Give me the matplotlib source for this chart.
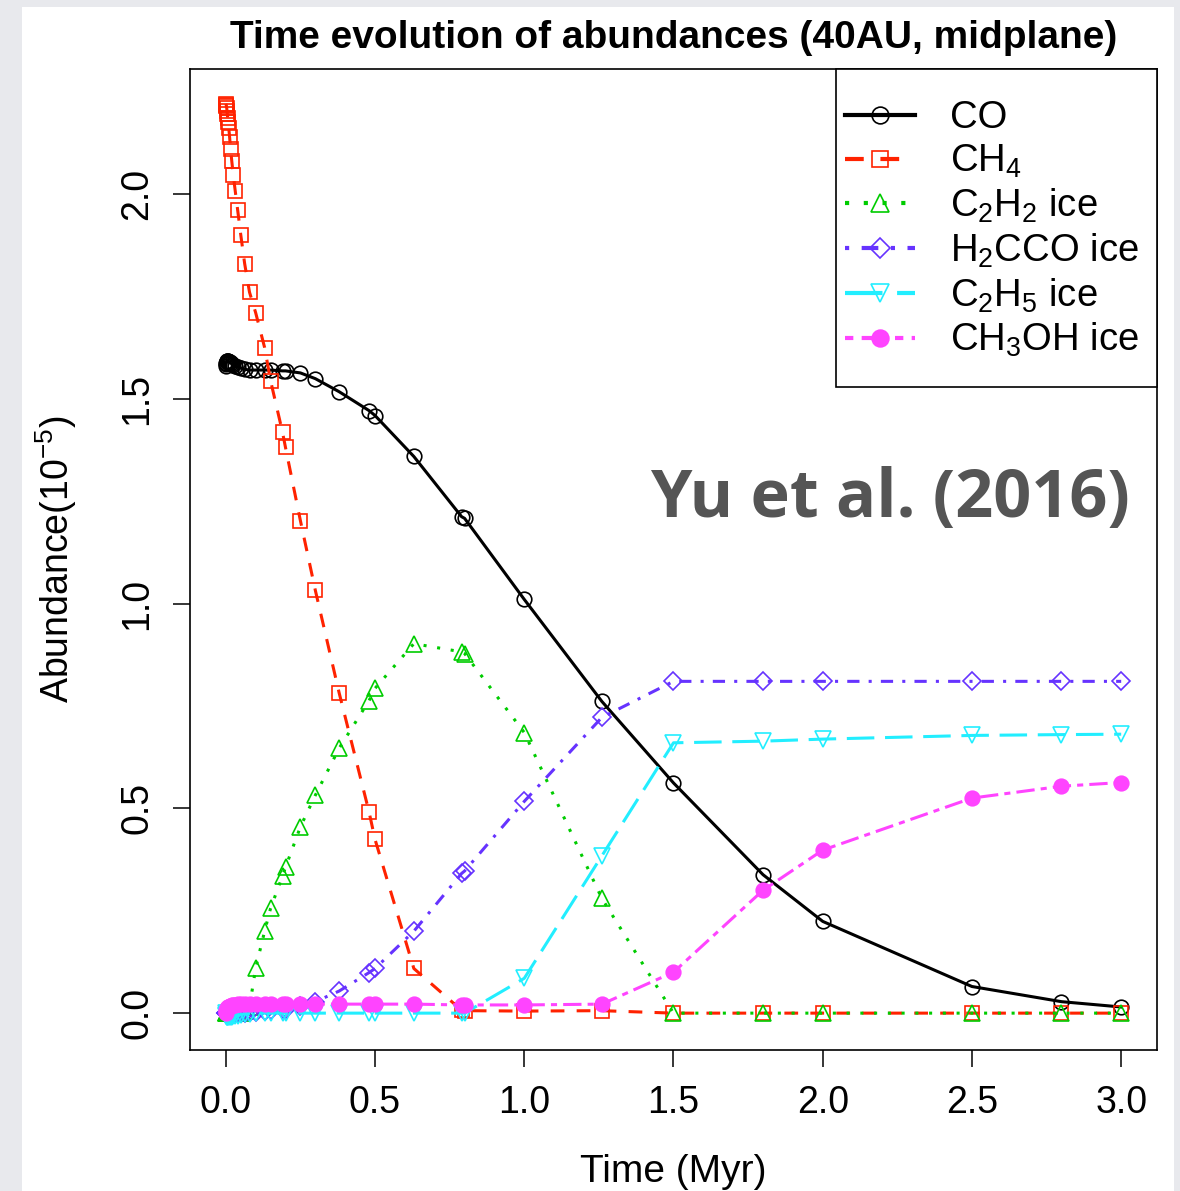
import matplotlib
matplotlib.use("Agg")
import matplotlib.pyplot as plt
from matplotlib.patches import Rectangle

plt.rcParams['font.family'] = ['Liberation Sans', 'DejaVu Sans']
plt.rcParams['mathtext.default'] = 'regular'

# time grid (Myr)
time = [0, 0.001, 0.002, 0.003, 0.004, 0.005, 0.0063, 0.0079, 0.01, 0.0126,
        0.0158, 0.02, 0.0251, 0.0316, 0.0398, 0.0501, 0.0631, 0.0794,
        0.1, 0.13, 0.15, 0.19, 0.2, 0.25, 0.3, 0.38, 0.48, 0.5, 0.63, 0.79,
        0.8, 1.0, 1.26, 1.5, 1.8, 2.0, 2.5, 2.8, 3.0]

# abundances in units of 1e-5
co = [1.58, 1.585, 1.588, 1.59, 1.591, 1.592, 1.592, 1.591, 1.59, 1.589,
      1.587, 1.585, 1.583, 1.58, 1.578, 1.575, 1.572, 1.57,
      1.57, 1.57, 1.57, 1.568, 1.568, 1.563, 1.549, 1.517, 1.471, 1.459, 1.359, 1.212,
      1.208, 1.01, 0.761, 0.562, 0.338, 0.224, 0.065, 0.028, 0.015]
ch4 = [2.22, 2.218, 2.215, 2.21, 2.203, 2.195, 2.185, 2.175, 2.16, 2.14,
       2.11, 2.08, 2.045, 2.007, 1.96, 1.90, 1.83, 1.76,
       1.71, 1.625, 1.544, 1.418, 1.381, 1.202, 1.032, 0.781, 0.491, 0.424, 0.109, 0.007,
       0.006, 0.005, 0.006, 0.0, 0.0, 0.0, 0.0, 0.0, 0.0]
c2h2 = [0, 0, 0, 0, 0, 0, 0, 0, 0, 0,
        0, 0, 0, 0, 0, 0.001, 0.004, 0.015,
        0.11, 0.2, 0.256, 0.335, 0.356, 0.455, 0.532, 0.647, 0.763, 0.793, 0.902, 0.882,
        0.878, 0.685, 0.28, 0.0, 0.0, 0.0, 0.0, 0.0, 0.0]
h2cco = [0, 0, 0, 0, 0, 0, 0, 0, 0, 0,
         0, 0, 0, 0, 0, 0.001, 0.001, 0.002,
         0.003, 0.005, 0.007, 0.01, 0.011, 0.018, 0.028, 0.054, 0.099, 0.109, 0.2, 0.341,
         0.347, 0.517, 0.722, 0.81, 0.81, 0.81, 0.81, 0.81, 0.81]
c2h5 = [0.0, -0.005, -0.008, -0.01, -0.01, -0.01, -0.01, -0.01, -0.01, -0.01,
        -0.009, -0.009, -0.008, -0.008, -0.006, -0.004, -0.002, -0.001,
        0, 0, 0, 0, 0, 0, 0, 0, 0, 0, 0, 0,
        0, 0.085, 0.384, 0.66, 0.664, 0.669, 0.678, 0.68, 0.681]
ch3oh = [0.0, 0.004, 0.007, 0.009, 0.011, 0.012, 0.014, 0.015, 0.016, 0.017,
         0.018, 0.019, 0.02, 0.021, 0.022, 0.022, 0.022, 0.022,
         0.022, 0.022, 0.022, 0.022, 0.022, 0.022, 0.022, 0.022, 0.022, 0.022, 0.022, 0.02,
         0.02, 0.02, 0.022, 0.1, 0.3, 0.398, 0.525, 0.554, 0.563]

labels = ['CO', 'CH$_4$', 'C$_2$H$_2$ ice', 'H$_2$CCO ice', 'C$_2$H$_5$ ice', 'CH$_3$OH ice']

fig = plt.figure(figsize=(11.8, 11.91), dpi=100)
fig.patch.set_facecolor('#e8e9ed')
# white slide panel behind the plot
fig.patches.append(Rectangle((22 / 1180, 0), (1174 - 22) / 1180, (1191 - 7) / 1191,
                             transform=fig.transFigure, facecolor='white',
                             edgecolor='none', zorder=-10))

ax = fig.add_axes([190 / 1180, (1191 - 1050) / 1191, (1157 - 190) / 1180, (1050 - 69) / 1191])
ax.set_zorder(1)
ax.patch.set_alpha(0)

lw = 2.2
ms_ew = 1.2
ax.plot(time, co, color='black', lw=lw, ls='-', marker='o', ms=10.5,
        mfc='none', mew=ms_ew, label=labels[0])
ax.plot(time, ch4, color='#ff2200', lw=lw, ls=(0, (4.5, 4)), marker='s', ms=10.5,
        mfc='none', mew=ms_ew, label=labels[1])
ax.plot(time, c2h2, color='#00cc00', lw=lw, ls=(0, (1, 3.5)), marker='^', ms=11,
        mfc='none', mew=ms_ew, label=labels[2])
ax.plot(time, h2cco, color='#6633ff', lw=lw, ls=(0, (1, 3, 4, 3)), marker='D', ms=9,
        mfc='none', mew=ms_ew, label=labels[3])
ax.plot(time, c2h5, color='#22eeff', lw=lw, ls=(0, (9, 3.5)), marker='v', ms=11,
        mfc='none', mew=ms_ew, label=labels[4])
ax.plot(time, ch3oh, color='#ff44ff', lw=lw, ls=(0, (2, 2, 6, 2)), marker='o', ms=10.5,
        mew=ms_ew, label=labels[5])

ax.set_xlim(-0.12, 3.12)
ax.set_ylim(-0.09, 2.305)
ax.set_xticks([0, 0.5, 1.0, 1.5, 2.0, 2.5, 3.0])
ax.set_xticklabels(['0.0', '0.5', '1.0', '1.5', '2.0', '2.5', '3.0'])
ax.set_yticks([0, 0.5, 1.0, 1.5, 2.0])
ax.set_yticklabels(['0.0', '0.5', '1.0', '1.5', '2.0'], rotation=90, va='center')

for s in ax.spines.values():
    s.set_linewidth(1.2)
ax.tick_params(direction='out', length=12, width=1.1, labelsize=27)
ax.tick_params(axis='x', pad=13)
ax.tick_params(axis='y', pad=13)

ax.set_title('Time evolution of abundances (40AU, midplane)', fontsize=28,
             fontweight='bold', pad=15)
ax.set_xlabel('Time (Myr)', fontsize=28, labelpad=24)
ax.set_ylabel('Abundance(10$^{-5}$)', fontsize=27, labelpad=29)

# legend box (R style, square corners, flush with the top right corner)
ax.add_patch(Rectangle((0.668, 0.6758), 0.332, 0.3242, transform=ax.transAxes,
                       facecolor='white', edgecolor='black', lw=1.2,
                       zorder=4, clip_on=False))
leg = ax.legend(loc='upper left', bbox_to_anchor=(0.6774, 0.968), fontsize=27.5,
                frameon=False, borderaxespad=0, borderpad=0, markerscale=1.15,
                handlelength=1.83, handletextpad=0.92, labelspacing=0.17)
for h in leg.get_lines():
    h.set_linewidth(3.0)

ax.text(0.972, 0.561, 'Yu et al. (2016)', transform=ax.transAxes, ha='right',
        va='center', fontsize=48, fontweight='bold', color='#555555',
        family=['Open Sans', 'DejaVu Sans'])

fig.savefig('out.png', dpi=100, facecolor=fig.get_facecolor())
